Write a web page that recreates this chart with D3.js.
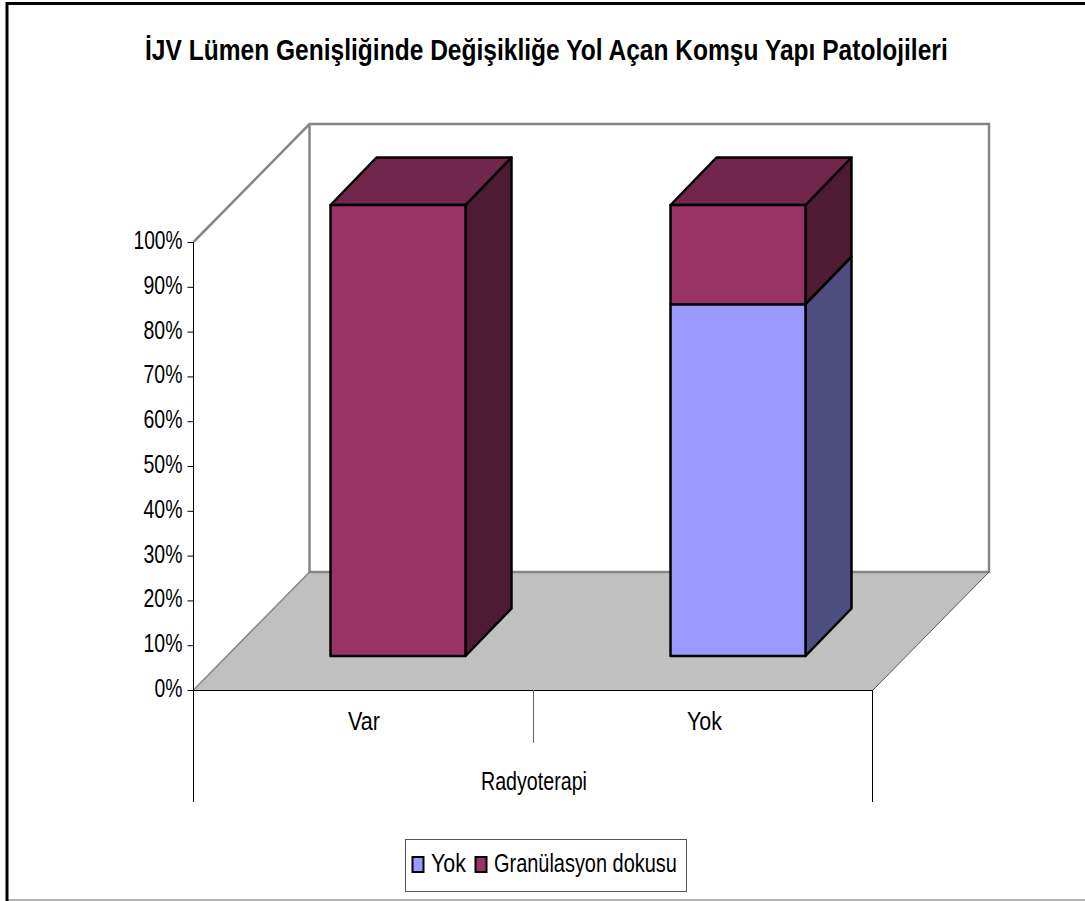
<!DOCTYPE html>
<meta charset="UTF-8">
<style>
body { margin: 0; background: #fff; }
svg { display: block; }
text { font-family: "Liberation Sans", Arial, sans-serif; fill: #000; }
</style>
<body>
<script src="https://d3js.org/d3.v7.min.js"></script>
<script>
// chart data
var title = "İJV Lümen Genişliğinde Değişikliğe Yol Açan Komşu Yapı Patolojileri";
var categories = ["Var", "Yok"];
var groupLabel = "Radyoterapi";
var seriesNames = ["Yok", "Granülasyon dokusu"];
var yokValues = [0, 78];
var granulasyonValues = [100, 22];
var percentTicks = [0, 10, 20, 30, 40, 50, 60, 70, 80, 90, 100];

var colors = {
  "Yok": {front: "#9999ff", side: "#4d4d7e"},
  "Granülasyon dokusu": {front: "#993366", side: "#4d1b33", top: "#70274b"}
};

var svg = d3.select("body").append("svg")
    .attr("width", 1085)
    .attr("height", 901);

// outer frame
svg.append("path").attr("d", "M7,900H1085").attr("fill", "none").attr("stroke", "#999").attr("stroke-width", 1.5);
svg.append("path").attr("d", "M7,901V3.5H1085").attr("fill", "none").attr("stroke", "#000").attr("stroke-width", 3);

// axis plane and depth of the fake 3d box
var axisX = d3.scaleBand().domain(categories).range([193.5, 873]);
var axisY = d3.scaleLinear().domain([0, 100]).range([690, 242]);
var depth = {x: 116, y: -118};
// the bars stand inside the box, so they get their own scales
var barX = d3.scaleBand().domain(categories).range([228, 908]).paddingInner(0.603).paddingOuter(0.3015);
var barY = d3.scaleLinear().domain([0, 100]).range([656, 205]);
var barDepth = {x: 46, y: -47.5};

function poly(points) {
  return "M" + points.map(function(p) { return p.join(","); }).join("L") + "Z";
}

// walls and floor
var x0 = axisX.range()[0], x1 = axisX.range()[1], y0 = axisY(0), yTop = axisY(100);
svg.append("path")
    .attr("d", poly([[x0, y0], [x0 + depth.x, y0 + depth.y], [x1 + depth.x, y0 + depth.y], [x1, y0]]))
    .attr("fill", "#c0c0c0");
svg.append("path")
    .attr("d", "M" + x0 + "," + yTop + "L" + (x0 + depth.x) + "," + (yTop + depth.y) +
      "H" + (x1 + depth.x) + "V" + (y0 + depth.y) + "H" + (x0 + depth.x) + "V" + (yTop + depth.y))
    .attr("fill", "none").attr("stroke", "#868686").attr("stroke-width", 2.5);
svg.append("path")
    .attr("d", "M" + x0 + "," + y0 + "L" + (x0 + depth.x) + "," + (y0 + depth.y))
    .attr("fill", "none").attr("stroke", "#868686").attr("stroke-width", 1.5);
svg.append("path")
    .attr("d", "M" + x1 + "," + y0 + "L" + (x1 + depth.x) + "," + (y0 + depth.y))
    .attr("fill", "none").attr("stroke", "#555").attr("stroke-width", 1);

// stacked bars, one box per segment
function drawBox(cat, from, to, name) {
  var xl = barX(cat), xr = xl + barX.bandwidth();
  var yb = barY(from), yt = barY(to);
  var c = colors[name];
  var g = svg.append("g").attr("stroke", "#000").attr("stroke-width", 2.5).attr("stroke-linejoin", "round");
  g.append("path").attr("fill", c.side)
      .attr("d", poly([[xr, yb], [xr + barDepth.x, yb + barDepth.y], [xr + barDepth.x, yt + barDepth.y], [xr, yt]]));
  if (c.top) {
    g.append("path").attr("fill", c.top)
        .attr("d", poly([[xl, yt], [xl + barDepth.x, yt + barDepth.y], [xr + barDepth.x, yt + barDepth.y], [xr, yt]]));
  }
  g.append("path").attr("fill", c.front)
      .attr("d", poly([[xl, yb], [xl, yt], [xr, yt], [xr, yb]]));
}
categories.forEach(function(cat, i) {
  if (yokValues[i] > 0) drawBox(cat, 0, yokValues[i], seriesNames[0]);
  if (granulasyonValues[i] > 0) drawBox(cat, yokValues[i], yokValues[i] + granulasyonValues[i], seriesNames[1]);
});

// squeezed text, the original is a stretched picture of arial
function label(str, x, baseline, width, size, bold) {
  var t = svg.append("text")
      .attr("font-size", size)
      .attr("font-weight", bold ? "bold" : "normal")
      .text(str);
  var sx = width / t.node().getComputedTextLength();
  t.attr("transform", "translate(" + x + "," + baseline + ") scale(" + sx + ",1)");
  return t;
}

label(title, 145, 60, 803, 30, true);

// y axis
var yAxis = d3.axisLeft(axisY)
    .tickValues(percentTicks)
    .tickSize(6)
    .tickFormat("");
var yG = svg.append("g").attr("transform", "translate(" + x0 + ",0)").call(yAxis);
yG.select(".domain").remove();
yG.selectAll("line").attr("stroke", "#000");
percentTicks.forEach(function(d) {
  var w = d == 100 ? 49 : d == 0 ? 28 : 39;
  label(d + "%", x0 - 11 - w, axisY(d) + 7, w, 26);
});

// multi level category axis
var axisLines = svg.append("g").attr("stroke", "#000").attr("fill", "none").attr("shape-rendering", "crispEdges");
axisLines.append("path").attr("d", "M" + x0 + "," + yTop + "V802");
axisLines.append("path").attr("d", "M" + x0 + "," + y0 + "H" + x1);
axisLines.append("path").attr("d", "M" + (x1 - 0.5) + "," + y0 + "V802");
axisLines.append("path").attr("stroke", "#666")
    .attr("d", "M" + axisX(categories[1]) + "," + y0 + "V743");

label(categories[0], 348, 730, 32, 26);
label(categories[1], 687, 730, 35, 26);
label(groupLabel, 481, 790, 106, 26);

// legend
svg.append("rect").attr("x", 405.5).attr("y", 839.5).attr("width", 281).attr("height", 52)
    .attr("fill", "#fff").attr("stroke", "#555");
var swatches = [412.5, 475.5];
seriesNames.forEach(function(name, i) {
  svg.append("rect").attr("x", swatches[i]).attr("y", 857).attr("width", 11).attr("height", 15)
      .attr("fill", colors[name].front).attr("stroke", "#000").attr("stroke-width", 2);
});
label(seriesNames[0], 431, 872, 35, 26);
label(seriesNames[1], 494, 872, 183, 26);
</script>
</body>
